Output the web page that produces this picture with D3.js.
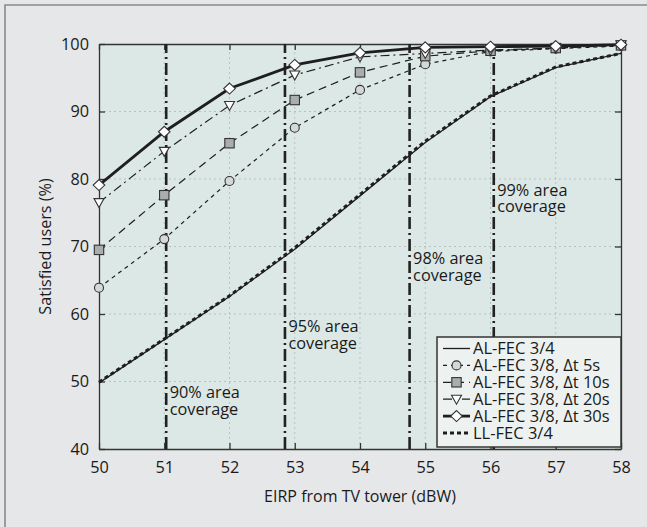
<!DOCTYPE html>
<html>
<head>
<meta charset="utf-8">
<script src="https://cdn.jsdelivr.net/npm/d3@7"></script>
<style>
  body { margin: 0; background: #e6e7e9; }
  text { font-family: "Open Sans", "Noto Sans", sans-serif; fill: #1a1a1a; }
</style>
</head>
<body>
<script>
// chart data
const eirp      = [50, 51, 52, 53, 54, 55, 56, 57, 58]
const alFec34   = [49.8, 56.2, 62.6, 69.6, 77.5, 85.4, 92.2, 96.5, 98.6]
const llFec34   = [49.9, 56.3, 62.7, 69.8, 77.7, 85.6, 92.3, 96.6, 98.6]
const alFec38_5  = [63.9, 71.1, 79.7, 87.6, 93.2, 97.0, 98.9, 99.3, 99.7]
const alFec38_10 = [69.5, 77.6, 85.3, 91.7, 95.8, 98.2, 99.0, 99.4, 99.8]
const alFec38_20 = [76.5, 84.1, 90.9, 95.4, 98.1, 98.6, 99.1, 99.4, 99.9]
const alFec38_30 = [79.1, 87.0, 93.4, 96.9, 98.7, 99.5, 99.6, 99.7, 99.9]
const yTicks    = [40, 50, 60, 70, 80, 90, 100]
const coverage       = [51.03, 52.85, 54.76, 56.05]
const coverageLabels = ["90% area", "95% area", "98% area", "99% area"]

const width = 647, height = 527

const svg = d3.select("body")
    .append("svg")
    .attr("width", width)
    .attr("height", height)

// outer frame (only top and left edges are visible)
svg.append("path")
    .attr("d", "M5,527 V5 H647")
    .attr("fill", "none")
    .attr("stroke", "#8a8a8a")
    .attr("stroke-width", 1.6)

const x = d3.scaleLinear().domain([50, 58]).range([99, 621])
const y = d3.scaleLinear().domain([40, 100]).range([449, 44])

// plot background
svg.append("rect")
    .attr("x", x(50)).attr("y", y(100))
    .attr("width", x(58) - x(50)).attr("height", y(40) - y(100))
    .attr("fill", "#dce8e5")

// dotted grid
const grid = svg.append("g")
    .attr("stroke", "#b9c1bf")
    .attr("stroke-width", 1)
    .attr("stroke-dasharray", "2,3")
grid.selectAll(".gx").data(eirp.slice(1, -1)).join("line")
    .attr("x1", d => x(d)).attr("x2", d => x(d))
    .attr("y1", y(40)).attr("y2", y(100))
grid.selectAll(".gy").data(yTicks.slice(1, -1)).join("line")
    .attr("x1", x(50)).attr("x2", x(58))
    .attr("y1", d => y(d)).attr("y2", d => y(d))

// axes with inward ticks
const axisColor = "#333"
function styleAxis(g) {
    g.select(".domain").attr("stroke", axisColor).attr("stroke-width", 1.3)
    g.selectAll(".tick line").attr("stroke", axisColor).attr("stroke-width", 1.3)
    g.selectAll(".tick text").attr("font-size", 16.3).attr("fill", "#1a1a1a")
        .style("font-family", "'Open Sans', 'Noto Sans', sans-serif")
}
svg.append("g")
    .attr("transform", `translate(0,${y(40)})`)
    .call(d3.axisBottom(x).tickValues(eirp).tickFormat(d3.format("d"))
        .tickSizeInner(-6).tickSizeOuter(0).tickPadding(12))
    .call(styleAxis)
svg.append("g")
    .attr("transform", `translate(${x(50)},0)`)
    .call(d3.axisLeft(y).tickValues(yTicks).tickFormat(d3.format("d"))
        .tickSizeInner(-6).tickSizeOuter(0).tickPadding(10))
    .call(styleAxis)
svg.append("g")
    .attr("transform", `translate(0,${y(100)})`)
    .call(d3.axisTop(x).tickValues(eirp).tickFormat("")
        .tickSizeInner(-6).tickSizeOuter(0))
    .call(styleAxis)
svg.append("g")
    .attr("transform", `translate(${x(58)},0)`)
    .call(d3.axisRight(y).tickValues(yTicks).tickFormat("")
        .tickSizeInner(-6).tickSizeOuter(0))
    .call(styleAxis)

// coverage lines (dash-dot)
svg.append("g").selectAll("line").data(coverage).join("line")
    .attr("x1", d => x(d)).attr("x2", d => x(d))
    .attr("y1", y(40)).attr("y2", y(100))
    .attr("stroke", "#222")
    .attr("stroke-width", 2.6)
    .attr("stroke-dasharray", "12,4,2,4")

// coverage annotations, y given in data units
const labelY = [47.5, 57.3, 67.4, 77.5]
const notes = svg.append("g").selectAll("text").data(coverage).join("text")
    .attr("x", d => x(d) + 3.5)
    .attr("y", (d, i) => y(labelY[i]))
    .attr("font-size", 16.3)
notes.append("tspan").text((d, i) => coverageLabels[i])
notes.append("tspan").attr("x", d => x(d) + 3.5).attr("dy", 16.5).text("coverage")

// series
const line = d3.line().x((d, i) => x(eirp[i])).y(d => y(d))

const series = [
    { name: "AL-FEC 3/4", values: alFec34, width: 1.3, dash: null, marker: null },
    { name: "AL-FEC 3/8, \u0394t 5s", values: alFec38_5, width: 1.2, dash: "4,4", marker: "circle" },
    { name: "AL-FEC 3/8, \u0394t 10s", values: alFec38_10, width: 1.2, dash: "8,5", marker: "square" },
    { name: "AL-FEC 3/8, \u0394t 20s", values: alFec38_20, width: 1.2, dash: "9,4,2,4", marker: "triangle" },
    { name: "AL-FEC 3/8, \u0394t 30s", values: alFec38_30, width: 2.8, dash: null, marker: "diamond" },
    { name: "LL-FEC 3/4", values: llFec34, width: 3, dash: "4,3", marker: null }
]

function drawMarker(g, type, cx, cy) {
    if (type === "circle") {
        g.append("circle").attr("cx", cx).attr("cy", cy).attr("r", 4.5)
            .attr("fill", "#d4d8d7").attr("stroke", "#333").attr("stroke-width", 1.1)
    } else if (type === "square") {
        g.append("rect").attr("x", cx - 4.7).attr("y", cy - 4.7)
            .attr("width", 9.4).attr("height", 9.4)
            .attr("fill", "#a9adac").attr("stroke", "#333").attr("stroke-width", 1.1)
    } else if (type === "triangle") {
        g.append("path")
            .attr("d", `M${cx - 5},${cy - 4} L${cx + 5},${cy - 4} L${cx},${cy + 5} Z`)
            .attr("fill", "#fff").attr("stroke", "#333").attr("stroke-width", 1.1)
    } else if (type === "diamond") {
        g.append("path")
            .attr("d", `M${cx},${cy - 5.5} L${cx + 5.8},${cy} L${cx},${cy + 5.5} L${cx - 5.8},${cy} Z`)
            .attr("fill", "#fff").attr("stroke", "#333").attr("stroke-width", 1.1)
    }
}

series.forEach(s => {
    svg.append("path")
        .attr("d", line(s.values))
        .attr("fill", "none")
        .attr("stroke", "#1e1e1e")
        .attr("stroke-width", s.width)
        .attr("stroke-dasharray", s.dash)
})
series.forEach(s => {
    if (!s.marker) return
    const g = svg.append("g")
    s.values.forEach((v, i) => drawMarker(g, s.marker, x(eirp[i]), y(v)))
})

// legend
const lg = svg.append("g")
lg.append("rect")
    .attr("x", 437).attr("y", 337)
    .attr("width", x(58) - 437).attr("height", 110)
    .attr("fill", "#edf2f1")
    .attr("stroke", "#333")
    .attr("stroke-width", 1.5)
series.forEach((s, i) => {
    const cy = 348.5 + i * 16.9
    lg.append("line")
        .attr("x1", 443).attr("x2", 470)
        .attr("y1", cy).attr("y2", cy)
        .attr("stroke", "#1e1e1e")
        .attr("stroke-width", s.width)
        .attr("stroke-dasharray", s.dash)
    if (s.marker) drawMarker(lg, s.marker, 456.5, cy)
    lg.append("text")
        .attr("x", 473).attr("y", cy)
        .attr("dy", "0.36em")
        .attr("font-size", 16.5)
        .text(s.name)
})

// axis titles
svg.append("text")
    .attr("x", x(54)).attr("y", 502)
    .attr("text-anchor", "middle")
    .attr("font-size", 16)
    .text("EIRP from TV tower (dBW)")
svg.append("text")
    .attr("transform", `translate(51,${y(70)}) rotate(-90)`)
    .attr("text-anchor", "middle")
    .attr("font-size", 16.2)
    .text("Satisfied users (%)")
</script>
</body>
</html>
